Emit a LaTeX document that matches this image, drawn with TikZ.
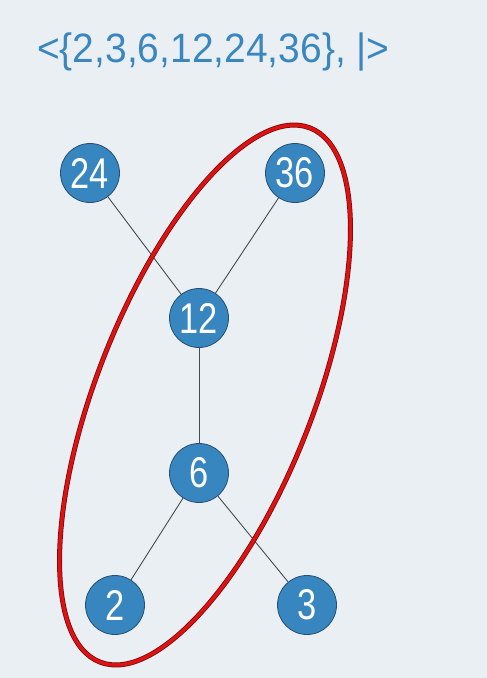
\documentclass[tikz,border=0pt]{standalone}
\usepackage{fontspec}
\setmainfont{Liberation Sans}
\definecolor{bgc}{RGB}{234,239,244}
\definecolor{titleblue}{RGB}{58,135,192}
\definecolor{nodeblue}{RGB}{55,134,192}
\definecolor{nodeedge}{RGB}{38,78,112}
\definecolor{ringred}{RGB}{222,18,18}
\definecolor{ringdark}{RGB}{120,10,10}
\definecolor{edgegrey}{RGB}{70,75,80}
\newcommand{\vlabel}[1]{\fontsize{43}{43}\selectfont\scalebox{0.8}[1]{#1}}
\begin{document}
\begin{tikzpicture}[x=1pt,y=-1pt,
  vert/.style={circle,fill=nodeblue,draw=nodeedge,line width=0.8pt,minimum size=59pt,inner sep=0pt,text=white},
  link/.style={draw=edgegrey,line width=0.9pt},
  ringout/.style={draw=ringdark,line width=5pt},
  ringin/.style={draw=ringred,line width=3.4pt}]
\fill[bgc] (0,0) rectangle (487,678);
\useasboundingbox (0,0) rectangle (487,678);
\node[text=titleblue,anchor=base west,inner sep=0pt] (title) at (37,62)
  {\fontsize{41}{41}\selectfont\scalebox{0.95}[1]{<\{2,3,6,12,24,36\}, |>}};
\node[vert] (n24) at (90,173) {\vlabel{24}};
\node[vert] (n36) at (295,173) {\vlabel{36}};
\node[vert] (n12) at (199,318) {\vlabel{12}};
\node[vert] (n6) at (199,473) {\vlabel{6}};
\node[vert] (n2) at (115,605) {\vlabel{2}};
\node[vert] (n3) at (307,605) {\vlabel{3}};
\draw[link] (n24) -- (n12);
\draw[link] (n36) -- (n12);
\draw[link] (n12) -- (n6);
\draw[link] (n6) -- (n2);
\draw[link] (n6) -- (n3);
\draw[ringout] (205,395) ellipse[x radius=108, y radius=287, rotate=-21.5];
\draw[ringin] (205,395) ellipse[x radius=108, y radius=287, rotate=-21.5];
\end{tikzpicture}
\end{document}
